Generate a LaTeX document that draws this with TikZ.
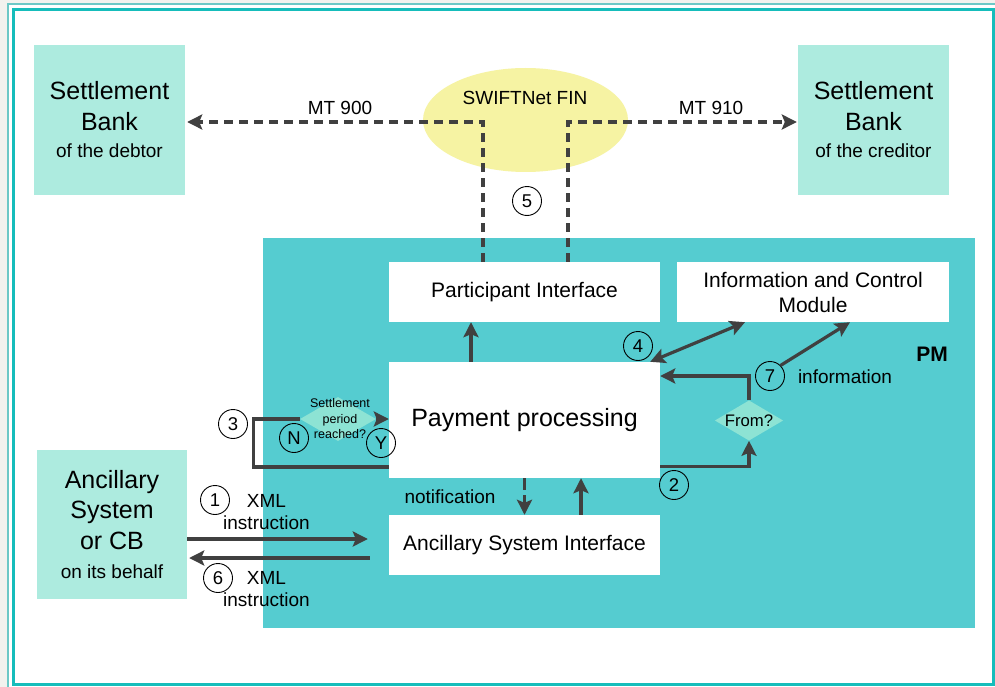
\documentclass[tikz,border=0pt]{standalone}
\usepackage{fontspec}
\setmainfont{Liberation Sans}
\usepackage{tikz}
\usetikzlibrary{positioning, arrows.meta, shapes.geometric, calc}

\definecolor{bankfill}{HTML}{ADEBDF}
\definecolor{pmfill}{HTML}{55CCD0}
\definecolor{swiftfill}{HTML}{F6F3A3}
\definecolor{decfill}{HTML}{8DE3D4}
\definecolor{frameteal}{HTML}{16BDBB}
\definecolor{framelite}{HTML}{6CC8C6}
\definecolor{arrgray}{HTML}{404040}
\definecolor{pagegray}{HTML}{F2F2EE}

\newcommand{\bigsize}{\fontsize{25}{30.5}\selectfont}
\newcommand{\midsize}{\fontsize{21}{25}\selectfont}
\newcommand{\smallsize}{\fontsize{19}{21.5}\selectfont}

\tikzset{
  tip/.tip={Stealth[length=15pt, width=15pt, inset=3pt]},
  bank/.style={fill=bankfill, minimum width=151pt, minimum height=150pt, inner sep=0pt, align=center, font=\bigsize},
  whitebox/.style={fill=white, minimum width=271pt, minimum height=60pt, inner sep=0pt, align=center, font=\midsize},
  decision/.style={diamond, fill=decfill, inner sep=0pt, aspect=1.7},
  arr/.style={draw=arrgray, line width=3.2pt, -tip},
  dasharr/.style={arr, dash pattern=on 9pt off 6pt},
  plainline/.style={draw=arrgray, line width=3.2pt},
  num/.style={circle, draw=black, line width=0.9pt, minimum size=29pt, inner sep=0pt, font=\fontsize{18.5}{20}\selectfont},
  lbl/.style={font=\smallsize, align=center, inner sep=0pt}
}

\begin{document}
\begin{tikzpicture}[x=1pt, y=-1pt]
    \useasboundingbox (0,0) rectangle (995,687);
    % page and frame
    \fill[pagegray] (0,0) rectangle (995,687);
    \draw[framelite, line width=2pt, fill=white] (7.5,4.3) rectangle (1005,700);
    \draw[frameteal, line width=3pt] (13.3,9.5) rectangle (993.3,684);

    % outer parties
    \node[bank] (debtor) at (109.5,120) {Settlement\\Bank\\[-3pt]{\smallsize of the debtor}};
    \node[bank] (creditor) at (873.5,120) {Settlement\\Bank\\[-3pt]{\smallsize of the creditor}};
    \node[ellipse, fill=swiftfill, minimum width=205pt, minimum height=104pt, inner sep=0pt] (swift) at (525.5,120) {};
    \node[lbl] (swiftlbl) at (525,98) {SWIFTNet FIN};
    \node[bank, minimum width=150pt, minimum height=149pt] (anc) at (112,524.5)
        {Ancillary\\System\\or CB\\[-1.5pt]{\smallsize on its behalf}};

    % payments module
    \node[fill=pmfill, minimum width=712pt, minimum height=390pt, inner sep=0pt] (pm) at (619,433) {};
    \node[font=\bfseries\fontsize{21}{24}\selectfont, inner sep=0pt] (pmlbl) at (932,354) {PM};
    \node[whitebox] (pi) at (524.5,292) {Participant Interface};
    \node[whitebox, minimum width=272pt] (icm) at (813,292) {Information and Control\\Module};
    \node[whitebox, minimum height=116pt, font=\bigsize] (pp) at (524.5,420) {Payment processing};
    \node[whitebox] (asi) at (524.5,545) {Ancillary System Interface};
    \node[decision, font=\fontsize{16.7}{18}\selectfont] (from) at (749,420.5) {From?};
    \node[decision, minimum width=76pt, minimum height=44pt] (period) at (338,419) {};
    \node[lbl, font=\fontsize{12.5}{15.5}\selectfont] (periodlbl) at (340,419) {Settlement\\period\\reached?};

    % SWIFT connections
    \draw[dasharr, shorten >=2pt] ([xshift=-41.5pt]pi.north) |- ([yshift=-2pt]debtor.east);
    \draw[dasharr, shorten >=1pt] ([xshift=43.5pt]pi.north) |- ([yshift=-2pt]creditor.west);
    \node[lbl] (mt900) at (340,108) {MT 900};
    \node[lbl] (mt910) at (711,108) {MT 910};

    % internal flows
    \draw[arr] ([xshift=-53.5pt]pp.north) -- ([xshift=-53.5pt]pi.south);
    \draw[dasharr, dash pattern=on 12pt off 5pt] (pp.south) -- (asi.north);
    \draw[arr] ([xshift=56.5pt]asi.north) -- ([xshift=56.5pt]pp.south);
    \node[lbl] (notif) at (450,497) {notification};
    \draw[arr, tip-tip] ([xshift=-10pt]pp.north east) -- ([xshift=-68pt]icm.south);
    \draw[arr] ([yshift=12pt]pp.south east) -| (from.south);
    \draw[arr] (from.north) |- ([yshift=44pt]pp.east);
    \draw[plainline] ([yshift=-47pt]pp.west) -- ++(-135,0) |- (period.west);
    \draw[arr] (period.east) -- (pp.west |- period.east);

    % ancillary system messages
    \draw[arr, shorten >=21pt] ([yshift=-14.5pt]anc.east) -- ([yshift=6pt]asi.west);
    \draw[arr, shorten <=19pt, shorten >=2pt] ([yshift=-13pt]asi.west) -- ([yshift=-33.5pt]anc.east);
    \node[lbl] (xmlin) at (266.5,512) {XML\\instruction};
    \node[lbl] (xmlout) at (266.5,589) {XML\\instruction};

    % step numbers
    \node[num] (n1) at (215,500) {1};
    \node[num] (n2) at (674,485) {2};
    \node[num] (n3) at (233,424) {3};
    \node[num] (n4) at (638,346) {4};
    \node[num] (n5) at (527,201) {5};
    \node[num] (n6) at (218,578) {6};
    \node[num] (n7) at (770,376) {7};
    \node[num] (nno) at (294,438) {N};
    \node[num] (nyes) at (381,443) {Y};
    \draw[arr] (n7.north east) -- ([xshift=37pt]icm.south);
    \node[lbl] (info) at (845,377) {information};
\end{tikzpicture}
\end{document}
